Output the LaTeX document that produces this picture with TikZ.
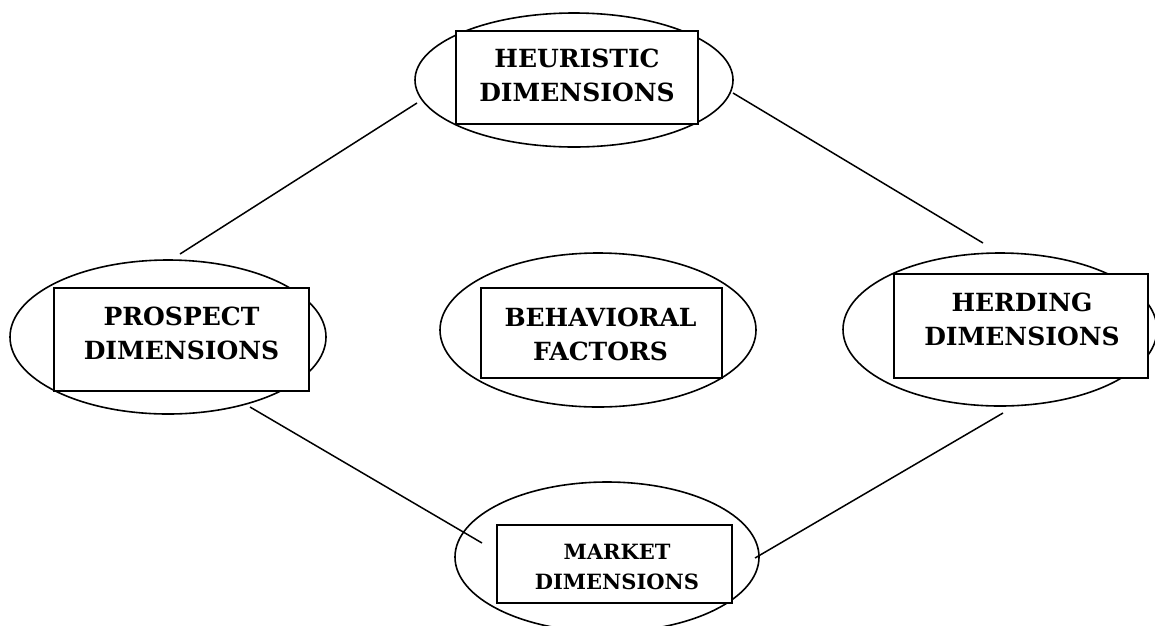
\documentclass[tikz,border=0pt]{standalone}
\usepackage{fontspec}
\setmainfont{DejaVu Serif}
\usetikzlibrary{shapes.geometric}
\begin{document}
\begin{tikzpicture}[x=1pt,y=-1pt,
  oval/.style={draw=black,line width=1.6pt,ellipse,inner sep=0pt},
  box/.style={draw=black,line width=1.8pt,fill=white,rectangle,inner sep=0pt},
  lbl/.style={align=center,inner sep=0pt,font=\bfseries\fontsize{25}{34}\selectfont},
  lblsmall/.style={align=center,inner sep=0pt,font=\bfseries\fontsize{21}{30}\selectfont},
  link/.style={draw=black,line width=1.5pt}]
\useasboundingbox (0,0) rectangle (1155,625);
\fill[white] (0,0) rectangle (1155,625);
% ellipses
\node[oval,minimum width=318pt,minimum height=134pt] (heurE) at (574,80) {};
\node[oval,minimum width=316pt,minimum height=154pt] (prosE) at (168,337) {};
\node[oval,minimum width=316pt,minimum height=154pt] (behE) at (598,330) {};
\node[oval,minimum width=314pt,minimum height=153pt] (herdE) at (1000,329.5) {};
\node[oval,minimum width=304pt,minimum height=150pt] (markE) at (607,557) {};
% boxes
\node[box,minimum width=242pt,minimum height=93pt] (heurB) at (577,77.5) {};
\node[box,minimum width=255pt,minimum height=103pt] (prosB) at (181.5,339.5) {};
\node[box,minimum width=241pt,minimum height=90pt] (behB) at (601.5,333) {};
\node[box,minimum width=254pt,minimum height=104pt] (herdB) at (1021,326) {};
\node[box,minimum width=235pt,minimum height=78pt] (markB) at (614.5,564) {};
% labels
\node[lbl] (heurT) at (577,75.5) {HEURISTIC\\DIMENSIONS};
\node[lbl] (prosT) at (181.5,333) {PROSPECT\\DIMENSIONS};
\node[lbl] (behT) at (600.5,334) {BEHAVIORAL\\FACTORS};
\node[lbl] (herdT) at (1022,319.5) {HERDING\\DIMENSIONS};
\node[lblsmall] (markT) at (617,567) {MARKET\\DIMENSIONS};
% connector ends
\coordinate (c1a) at (417,103);
\coordinate (c1b) at (180,254);
\coordinate (c2a) at (733,93);
\coordinate (c2b) at (983,243);
\coordinate (c3a) at (250,407);
\coordinate (c3b) at (482,543);
\coordinate (c4a) at (1003,413);
\coordinate (c4b) at (755,558);
\draw[link] (c1a) -- (c1b);
\draw[link] (c2a) -- (c2b);
\draw[link] (c3a) -- (c3b);
\draw[link] (c4a) -- (c4b);
\end{tikzpicture}
\end{document}
